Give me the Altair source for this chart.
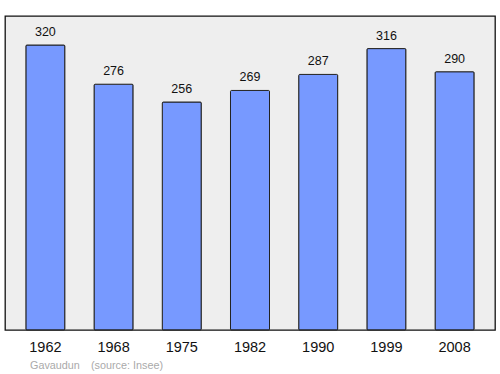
import altair as alt
import pandas as pd

years = ["1962", "1968", "1975", "1982", "1990", "1999", "2008"]
population = [320, 276, 256, 269, 287, 316, 290]

df = pd.DataFrame({"year": years, "pop": population})

x = alt.X("year:N", sort=years,
          scale=alt.Scale(paddingInner=0.428, paddingOuter=0.306),
          axis=alt.Axis(title=None, labelAngle=0, ticks=False, domain=False,
                        labelFontSize=14.5, labelColor="#111", labelPadding=10,
                        labelFont="Liberation Sans"))
y = alt.Y("pop:Q", scale=alt.Scale(domain=[0, 352.6], nice=False, zero=True),
          axis=None)

bars = alt.Chart(df).mark_bar(color="#7799ff", stroke="#222", strokeWidth=1,
                               cornerRadius=1).encode(x=x, y=y)
labels = alt.Chart(df).mark_text(baseline="alphabetic", dy=-9, fontSize=12.5,
                                 font="Liberation Sans", color="#111").encode(
    x=x, y=y, text="pop:Q")

foot1 = alt.Chart(pd.DataFrame({"t": ["Gavaudun"]})).mark_text(
    align="left", baseline="middle", fontSize=10.8, font="Liberation Sans",
    color="#aaaaaa").encode(x=alt.value(25), y=alt.value(350), text="t:N")
foot2 = alt.Chart(pd.DataFrame({"t": ["(source: Insee)"]})).mark_text(
    align="left", baseline="middle", fontSize=10.8, font="Liberation Sans",
    color="#aaaaaa").encode(x=alt.value(86), y=alt.value(350), text="t:N")

chart = alt.layer(bars, labels, foot1, foot2).properties(
    width=490, height=314,
    autosize=alt.AutoSizeParams(type="none"),
    padding={"left": 5, "top": 16, "right": 5, "bottom": 44},
    background="white",
).configure_view(fill="#eeeeee", stroke="#111", strokeWidth=1.3)

chart.save("out.html", embed_options={"renderer": "svg", "actions": False})
